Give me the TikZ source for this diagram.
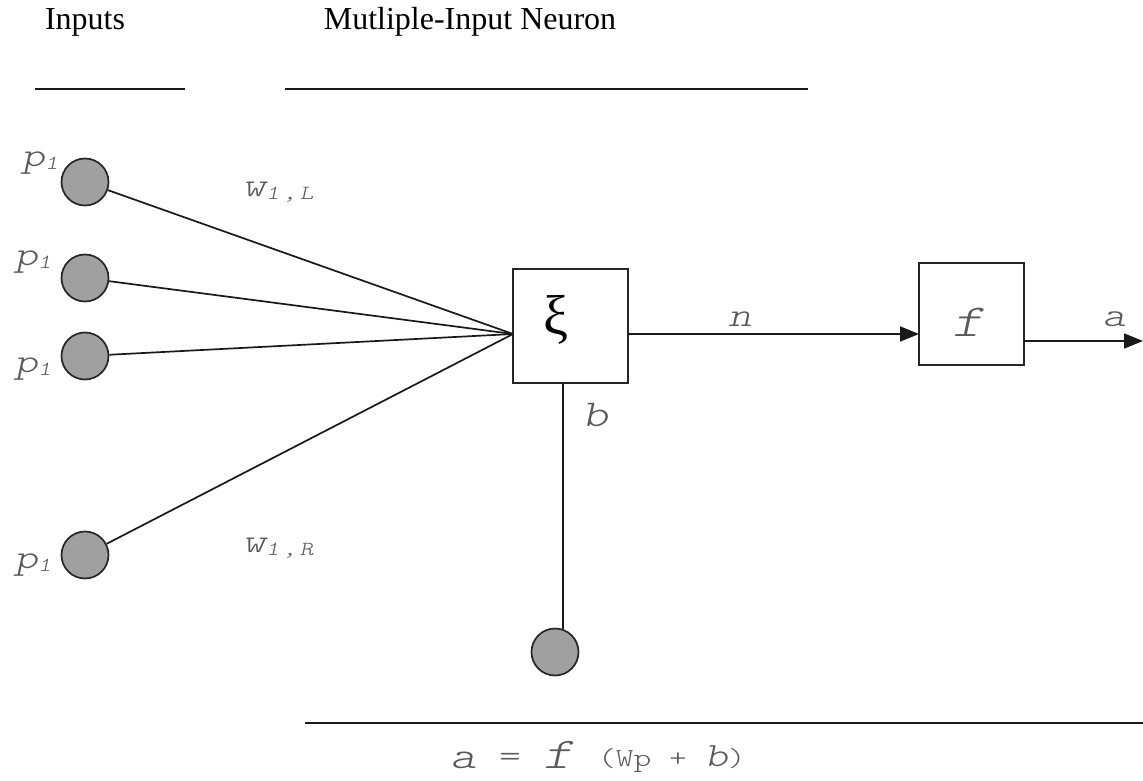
\documentclass[tikz,border=0pt]{standalone}
\usepackage{fontspec}
\setmainfont{Liberation Serif}
\newfontfamily\labf{lmmonolt10-regular}[Extension=.otf, ItalicFont=lmmonolt10-oblique, FakeStretch=1.3]
\usetikzlibrary{arrows.meta}
\definecolor{circfill}{RGB}{160,160,160}
\definecolor{labgray}{RGB}{90,90,90}
\newcommand\lblsub[2]{#1\raisebox{-0.08em}{\fontsize{20}{20}\selectfont #2}}
\tikzset{
  inp/.style={circle, draw=black!85, fill=circfill, line width=1.7pt, minimum size=47pt, inner sep=0pt},
  blk/.style={draw=black!85, line width=1.5pt, fill=white, inner sep=0pt},
  lab/.style={text=labgray, font=\labf\itshape\fontsize{34}{34}\selectfont, inner sep=0pt},
  wire/.style={draw=black!90, line width=1.7pt},
  ttl/.style={font=\fontsize{32}{32}\selectfont, inner sep=0pt},
  arr/.style={wire, -{Triangle[length=19pt,width=15pt]}}
}
\begin{document}
\begin{tikzpicture}[x=1pt,y=-1pt]
\useasboundingbox (0,0) rectangle (1143,781);
% titles
\node[ttl] (tin) at (85,22) {Inputs};
\node[ttl] (tneu) at (470,22) {Mutliple-Input Neuron};
\coordinate (l1a) at (35,89); \coordinate (l1b) at (185,89);
\coordinate (l2a) at (285,89); \coordinate (l2b) at (808,89);
\draw[wire] (l1a) -- (l1b);
\draw[wire] (l2a) -- (l2b);
% inputs
\node[inp] (p1) at (85,182) {};
\node[inp] (p2) at (85,278) {};
\node[inp] (p3) at (85,356) {};
\node[inp] (p4) at (85,555) {};
\node[lab] (lp1) at (40,163) {\lblsub{p}{1}};
\node[lab] (lp2) at (33,262) {\lblsub{p}{1}};
\node[lab] (lp3) at (33,369) {\lblsub{p}{1}};
\node[lab] (lp4) at (33,565) {\lblsub{p}{1}};
% summation block
\node[blk, minimum width=115pt, minimum height=114pt] (sum) at (570.5,326) {};
\node[font=\fontsize{56}{56}\selectfont, inner sep=0pt] (xi) at (556,320) {ξ};
\coordinate (cv) at (513,334);
\draw[wire] (p1) -- (cv);
\draw[wire] (p2) -- (cv);
\draw[wire] (p3) -- (cv);
\draw[wire] (p4) -- (cv);
\node[lab] (w1) at (278,192) {\lblsub{w}{1\,,\,L}};
\node[lab] (w2) at (278,548) {\lblsub{w}{1\,,\,R}};
% activation block
\node[blk, minimum width=105pt, minimum height=102pt] (act) at (971.5,314) {};
\node[lab, font=\labf\itshape\fontsize{46}{46}\selectfont] (fl) at (968,322) {f};
\coordinate (nout) at (628,334);
\coordinate (nin) at (919,334);
\draw[arr] (nout) -- (nin);
\node[lab] (nl) at (740,319) {n};
\coordinate (aout) at (1024,341);
\coordinate (aend) at (1143,341);
\draw[arr] (aout) -- (aend);
\node[lab] (al) at (1114,319) {a};
% bias
\node[inp] (bias) at (555,652) {};
\coordinate (bt) at (563,383);
\coordinate (bb) at (563,629);
\draw[wire] (bt) -- (bb);
\node[lab, font=\labf\itshape\fontsize{38}{38}\selectfont] (bl) at (595,415) {b};
% equation
\coordinate (l3a) at (305,723); \coordinate (l3b) at (1143,723);
\draw[wire] (l3a) -- (l3b);
\node[lab, font=\labf\itshape\fontsize{38}{38}\selectfont] (eqa) at (463,760) {a};
\node[lab, font=\labf\fontsize{32}{32}\selectfont] (eqe) at (510,760) {=};
\node[lab, font=\labf\itshape\fontsize{44}{44}\selectfont] (eqf) at (559,755) {f};
\node[lab, anchor=west, font=\labf\fontsize{26}{26}\selectfont] (eqr) at (598,759) {(Wp + {\itshape\fontsize{34}{34}\selectfont b})};
\end{tikzpicture}
\end{document}
